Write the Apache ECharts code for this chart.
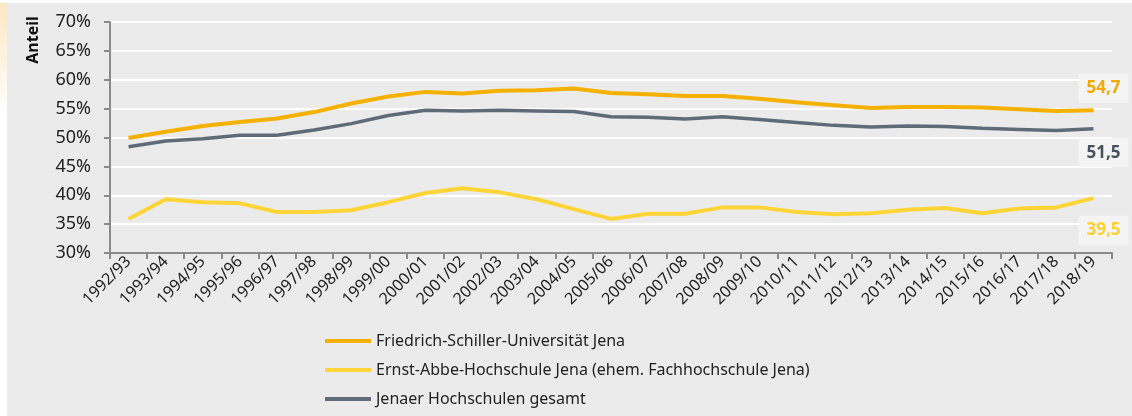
<!DOCTYPE html>
<html>
<head>
<meta charset="utf-8">
<script src="https://cdn.jsdelivr.net/npm/echarts@6/dist/echarts.min.js"></script>
<style>
html,body{margin:0;padding:0;background:#fff;}
#c{width:1132px;height:416px;}
</style>
</head>
<body>
<div id="c"></div>
<script>
const categories = ['1992/93','1993/94','1994/95','1995/96','1996/97','1997/98','1998/99','1999/00','2000/01','2001/02','2002/03','2003/04','2004/05','2005/06','2006/07','2007/08','2008/09','2009/10','2010/11','2011/12','2012/13','2013/14','2014/15','2015/16','2016/17','2017/18','2018/19'];
const fsu = [49.9,51.0,52.0,52.7,53.3,54.4,55.9,57.1,57.9,57.6,58.1,58.2,58.5,57.7,57.5,57.2,57.2,56.7,56.1,55.6,55.1,55.3,55.3,55.2,54.9,54.6,54.7];
const eah = [35.9,39.3,38.8,38.6,37.1,37.1,37.4,38.8,40.4,41.2,40.5,39.3,37.6,35.9,36.8,36.8,37.9,37.9,37.1,36.7,36.9,37.5,37.8,36.9,37.7,37.9,39.5];
const gesamt = [48.4,49.4,49.8,50.4,50.4,51.3,52.4,53.8,54.7,54.6,54.7,54.6,54.5,53.6,53.5,53.2,53.6,53.1,52.6,52.1,51.8,52.0,51.9,51.6,51.4,51.2,51.5];
const seriesNames = ['Friedrich-Schiller-Universität Jena','Ernst-Abbe-Hochschule Jena (ehem. Fachhochschule Jena)','Jenaer Hochschulen gesamt'];
const yTicks = [30,35,40,45,50,55,60,65,70];

const FONT = '"Noto Sans", sans-serif';
const colors = ['#F5B000','#FFD437','#5F6B78'];
const labelColors = ['#F5A800','#FFD030','#48525E'];
const labelOffsets = [[10,-22],[10,32],[10,24]];

function build(values, idx){
  return values.map((v,i)=>{
    if(i!==values.length-1) return v;
    return {value:v,label:{show:true,position:'inside',offset:labelOffsets[idx],
      formatter:(p)=>String(p.value).replace('.',','),
      color:labelColors[idx],fontFamily:FONT,fontWeight:'bold',fontSize:17,
      backgroundColor:'#F4F4F4',padding:[6,8,6,8]}};
  });
}

const chart = echarts.init(document.getElementById('c'),null,{renderer:'canvas'});
chart.setOption({
  animation:false,
  backgroundColor:'#fff',
  graphic:[
    {type:'rect',shape:{x:7,y:3,width:1125,height:413},style:{fill:'#EBEBEB'},z:-10,silent:true},
    {type:'rect',shape:{x:0,y:3,width:7,height:110},style:{fill:{type:'linear',x:0,y:0,x2:0,y2:1,colorStops:[{offset:0,color:'#FDE7C2'},{offset:1,color:'#FFFFFF'}]}},z:-10,silent:true},
    {type:'text',x:33,y:40,rotation:Math.PI/2,style:{text:'Anteil',font:'bold 16px '+FONT,fill:'#111',align:'center',verticalAlign:'middle'}}
  ],
  grid:{left:110,right:20,top:22,bottom:163,containLabel:false},
  legend:{
    orient:'vertical',left:320,top:326,height:100,
    itemWidth:46,itemHeight:4,itemGap:9,icon:'rect',
    textStyle:{fontFamily:FONT,fontSize:16,color:'#222',lineHeight:20},
    data:seriesNames
  },
  xAxis:{
    type:'category',data:categories,boundaryGap:true,
    axisLine:{lineStyle:{color:'#8A8A8A',width:2}},
    axisTick:{show:true,length:6,lineStyle:{color:'#8A8A8A',width:2}},
    axisLabel:{rotate:45,interval:0,fontFamily:FONT,fontSize:16,color:'#222',margin:6}
  },
  yAxis:{
    type:'value',min:yTicks[0],max:yTicks[yTicks.length-1],interval:5,
    axisLine:{show:true,lineStyle:{color:'#8A8A8A',width:2}},
    axisTick:{show:true,length:6,lineStyle:{color:'#8A8A8A',width:2}},
    axisLabel:{formatter:'{value}%',fontFamily:FONT,fontSize:18,color:'#222',margin:19},
    splitLine:{lineStyle:{color:'#FFFFFF',width:2}}
  },
  series:[fsu,eah,gesamt].map((d,i)=>({
    name:seriesNames[i],type:'line',data:build(d,i),
    symbol:'circle',symbolSize:0,showSymbol:true,smooth:false,
    lineStyle:{color:colors[i],width:i===2?3.5:4},
    itemStyle:{color:colors[i]},
    z:i===1?3:2
  }))
});
</script>
</body>
</html>
